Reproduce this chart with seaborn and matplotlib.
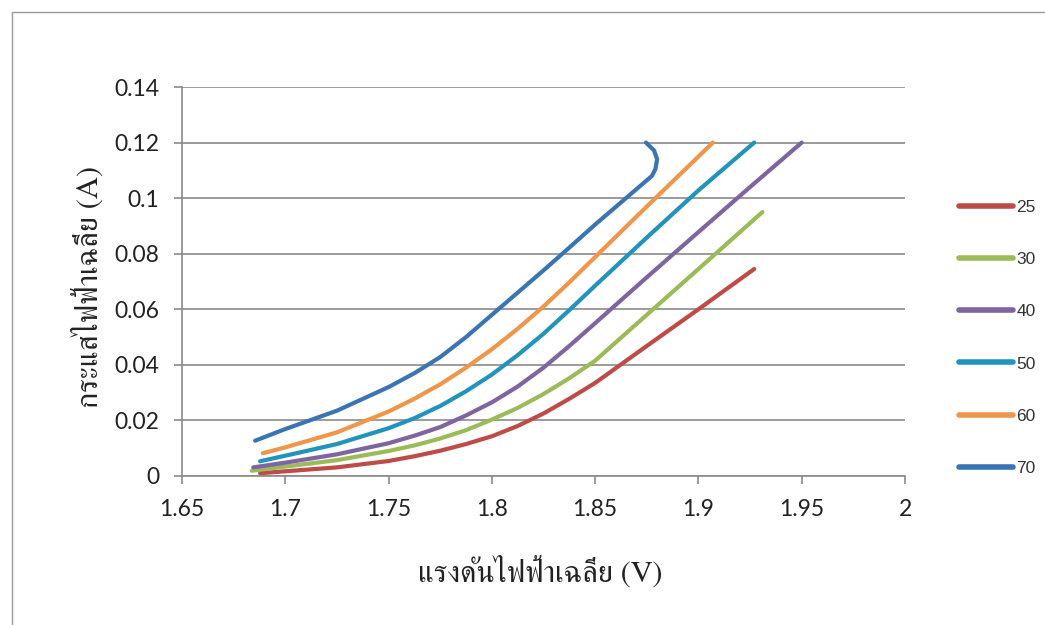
import numpy as np
import pandas as pd
import seaborn as sns
import matplotlib
matplotlib.use("Agg")
import matplotlib.pyplot as plt
from matplotlib import font_manager as fm
from matplotlib.ft2font import FT2Font
from matplotlib.lines import Line2D

# Current-voltage curves at several temperatures
temps = ["25", "30", "40", "50", "60", "70"]

v_25 = [1.6878, 1.700, 1.725, 1.750, 1.7625, 1.775, 1.7875, 1.800, 1.8125, 1.825, 1.8375, 1.850, 1.875, 1.900, 1.927]
i_25 = [0.0010, 0.0017, 0.0031, 0.0054, 0.0071, 0.0091, 0.0115, 0.0143, 0.0180, 0.0225, 0.0278, 0.0335, 0.0468, 0.0600, 0.0745]

v_30 = [1.6838, 1.700, 1.725, 1.750, 1.7625, 1.775, 1.7875, 1.800, 1.8125, 1.825, 1.8375, 1.850, 1.875, 1.900, 1.931]
i_30 = [0.0019, 0.0034, 0.0057, 0.0090, 0.0110, 0.0135, 0.0165, 0.0203, 0.0245, 0.0295, 0.0352, 0.0415, 0.0580, 0.0745, 0.0950]

v_40 = [1.6845, 1.700, 1.725, 1.750, 1.7625, 1.775, 1.7875, 1.800, 1.8125, 1.825, 1.8375, 1.850, 1.875, 1.900, 1.925, 1.950]
i_40 = [0.0031, 0.0048, 0.0078, 0.0118, 0.0145, 0.0176, 0.0218, 0.0265, 0.0322, 0.0390, 0.0468, 0.0550, 0.0715, 0.0878, 0.1040, 0.1200]

v_50 = [1.6878, 1.700, 1.725, 1.750, 1.7625, 1.775, 1.7875, 1.800, 1.8125, 1.825, 1.8375, 1.850, 1.875, 1.900, 1.927]
i_50 = [0.0053, 0.0073, 0.0115, 0.0172, 0.0208, 0.0252, 0.0305, 0.0365, 0.0435, 0.0512, 0.0597, 0.0685, 0.0858, 0.1028, 0.1200]

v_60 = [1.6891, 1.700, 1.725, 1.750, 1.7625, 1.775, 1.7875, 1.800, 1.8125, 1.825, 1.8375, 1.850, 1.875, 1.907]
i_60 = [0.0082, 0.0103, 0.0157, 0.0232, 0.0278, 0.0330, 0.0390, 0.0456, 0.0530, 0.0610, 0.0697, 0.0788, 0.0970, 0.1200]

v_70 = [1.6854, 1.700, 1.725, 1.750, 1.7625, 1.775, 1.7875, 1.800, 1.8125, 1.825, 1.8375, 1.850,
        1.8775, 1.8792, 1.8800, 1.8785, 1.8746]
i_70 = [0.0127, 0.0169, 0.0235, 0.0320, 0.0370, 0.0428, 0.0500, 0.0580, 0.0660, 0.0740, 0.0822, 0.0905,
        0.1080, 0.1105, 0.1140, 0.1172, 0.1200]

x_ticks = [1.65, 1.7, 1.75, 1.8, 1.85, 1.9, 1.95, 2]
x_tick_labels = ["1.65", "1.7", "1.75", "1.8", "1.85", "1.9", "1.95", "2"]
y_ticks = [0, 0.02, 0.04, 0.06, 0.08, 0.1, 0.12, 0.14]
y_tick_labels = ["0", "0.02", "0.04", "0.06", "0.08", "0.1", "0.12", "0.14"]

x_title = "แรงดันไฟฟ้าเฉลี่ย (V)"
y_title = "กระแสไฟฟ้าเฉลี่ย (A)"

colors = ["#BE4B48", "#9BBB59", "#7E64A0", "#2193BC", "#F0964A", "#3A74B4"]

series = [(temps[0], v_25, i_25), (temps[1], v_30, i_30), (temps[2], v_40, i_40),
          (temps[3], v_50, i_50), (temps[4], v_60, i_60), (temps[5], v_70, i_70)]
frames = []
for name, v, i in series:
    frames.append(pd.DataFrame({"V": v, "I": i, "T": name}))
df = pd.concat(frames, ignore_index=True)


def find_thai_family():
    """Pick an installed family that has Thai glyphs, serif first."""
    found = []
    for f in fm.fontManager.ttflist:
        try:
            if 0x0E01 in FT2Font(f.fname).get_charmap():
                found.append(f.name)
        except Exception:
            pass
    if not found:
        return "DejaVu Sans"
    for pref in ("Norasi", "Serif", "Sarabun", "Garuda", "Loma"):
        for n in found:
            if pref in n:
                return n
    return found[0]


thai_family = find_thai_family()

sns.set_theme(style="white")
plt.rcParams["font.family"] = ["Lato", "DejaVu Sans"]

fig = plt.figure(figsize=(10.45, 6.25), dpi=100)
ax = fig.add_axes([182 / 1045, 1 - 476 / 625, 723 / 1045, 389 / 625])

sns.lineplot(data=df, x="V", y="I", hue="T", hue_order=temps, palette=colors,
             sort=False, estimator=None, units="T", linewidth=3.0,
             solid_capstyle="round", solid_joinstyle="round", ax=ax, legend=True)

ax.set_xlim(1.65, 2.0)
ax.set_ylim(0, 0.14)
ax.set_xticks(x_ticks)
ax.set_xticklabels(x_tick_labels)
ax.set_yticks(y_ticks)
ax.set_yticklabels(y_tick_labels)

grid_col = "#8a8a8a"
ax.yaxis.grid(True, color=grid_col, linewidth=1.2)
ax.xaxis.grid(False)
ax.set_axisbelow(True)
for side in ("top", "right"):
    ax.spines[side].set_visible(False)
for side in ("left", "bottom"):
    ax.spines[side].set_color(grid_col)
    ax.spines[side].set_linewidth(1.2)

ax.tick_params(axis="both", which="major", direction="out", length=5.5, width=1.2,
               color=grid_col, labelsize=16.5, labelcolor="#222222", pad=11)
ax.tick_params(axis="y", left=True)
ax.tick_params(axis="x", bottom=True)

ax.set_xlabel("")
ax.set_ylabel("")
fig.text(540 / 1045, 1 - 572 / 625, x_title, ha="center", va="center",
         fontsize=22, color="#222222", family=[thai_family, "DejaVu Serif"])
fig.text(88 / 1045, 1 - 287 / 625, y_title, ha="center", va="center", rotation=90,
         fontsize=22, color="#222222", family=[thai_family, "DejaVu Serif"])

handles, labels = ax.get_legend_handles_labels()
for h in handles:
    h.set_linewidth(4.0)
    h.set_solid_capstyle("round")
leg = ax.legend(handles, labels, loc="upper left",
                bbox_to_anchor=(959 / 1045, 1 - 200 / 625), bbox_transform=fig.transFigure,
                frameon=False, handlelength=3.1, handletextpad=0.2, labelspacing=2.13,
                borderaxespad=0, borderpad=0,
                prop={"family": "Liberation Sans", "size": 12.5})
for t in leg.get_texts():
    t.set_color("#333333")

# Chart-area frame lines
fig.add_artist(Line2D([12 / 1045, 1.0], [1 - 12 / 625, 1 - 12 / 625],
                      transform=fig.transFigure, color="#9a9a9a", linewidth=1.0))
fig.add_artist(Line2D([12 / 1045, 12 / 1045], [0.0, 1 - 12 / 625],
                      transform=fig.transFigure, color="#9a9a9a", linewidth=1.0))

fig.savefig("out.png", dpi=100, facecolor="white")
